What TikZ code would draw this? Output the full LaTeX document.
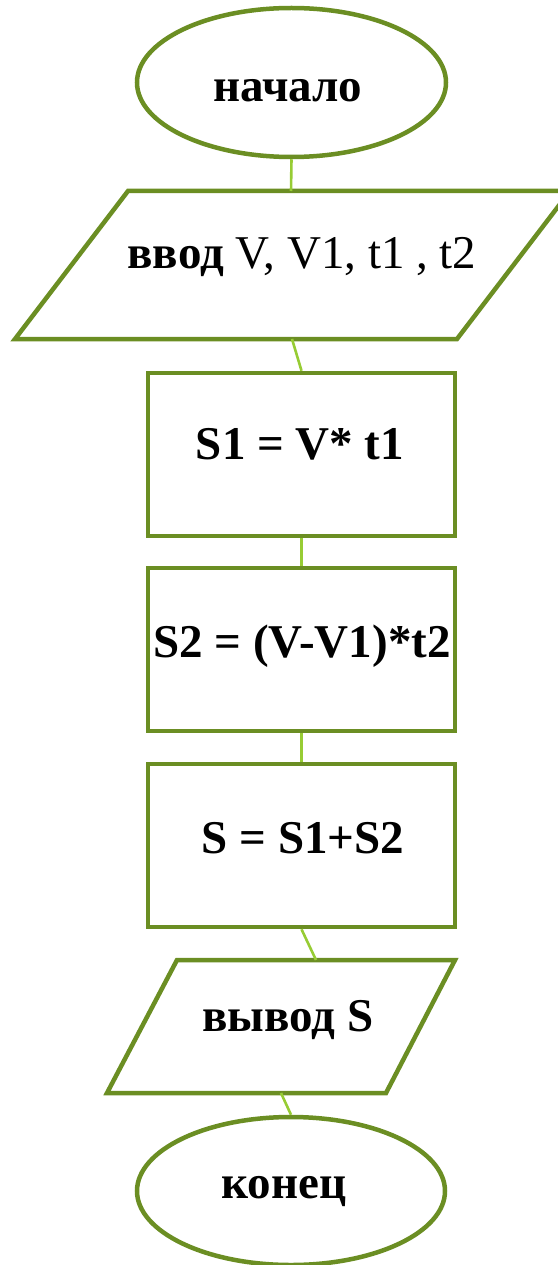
\documentclass[tikz,border=0pt]{standalone}
\usepackage{fontspec}
\setmainfont{Liberation Serif}
\usetikzlibrary{shapes.geometric}
\definecolor{shapeline}{HTML}{6B8E23}
\definecolor{linkline}{HTML}{97CC34}
\tikzset{
  shapebox/.style={draw=shapeline, line width=4.5pt, fill=white},
  term/.style={shapebox, ellipse, inner sep=0pt},
  procbox/.style={shapebox, rectangle, inner sep=0pt, minimum width=307pt, minimum height=163pt},
  link/.style={draw=linkline, line width=2.6pt},
  label/.style={anchor=base, inner sep=0pt, font=\fontsize{47}{50}\selectfont}
}
\begin{document}
\begin{tikzpicture}[x=1pt,y=-1pt]
\useasboundingbox (0,0) rectangle (557,1265);
% terminals
\node[term, minimum width=309pt, minimum height=149pt] (start) at (291.5,82.5) {};
\node[term, minimum width=308pt, minimum height=148pt] (end) at (291,1191) {};
% input parallelogram
\coordinate (inTL) at (128,191);
\coordinate (inTR) at (570,191);
\coordinate (inBR) at (457,339);
\coordinate (inBL) at (15,339);
\draw[shapebox, line join=miter] (inTL) -- (inTR) -- (inBR) -- (inBL) -- cycle;
\coordinate (inT) at (291,191);
\coordinate (inB) at (292,339);
% process boxes
\node[procbox] (r1) at (301.5,454.5) {};
\node[procbox] (r2) at (301.5,649.5) {};
\node[procbox] (r3) at (301.5,845.5) {};
% output parallelogram
\coordinate (outTL) at (177,960);
\coordinate (outTR) at (455,960);
\coordinate (outBR) at (386,1093);
\coordinate (outBL) at (107,1093);
\draw[shapebox, line join=miter] (outTL) -- (outTR) -- (outBR) -- (outBL) -- cycle;
\coordinate (outT) at (316,960);
\coordinate (outB) at (281,1093);
% connectors
\draw[link] (start.south) -- (inT);
\draw[link] (inB) -- (r1.north);
\draw[link] (r1.south) -- (r2.north);
\draw[link] (r2.south) -- (r3.north);
\draw[link] (r3.south) -- (outT);
\draw[link] (outB) -- (end.north);
% texts
\node[label] (tstart) at (288,102) {\textbf{начало}};
\node[label] (tin) at (302,268) {\textbf{ввод} V, V1, t1 , t2};
\node[label] (t1) at (300,459) {\textbf{S1 = V* t1}};
\node[label] (t2) at (302,657) {\textbf{S2 = (V-V1)*t2}};
\node[label] (t3) at (303,853) {\textbf{S = S1+S2}};
\node[label] (tout) at (288,1031) {\textbf{вывод S}};
\node[label] (tend) at (284,1198) {\textbf{конец}};
\end{tikzpicture}
\end{document}
